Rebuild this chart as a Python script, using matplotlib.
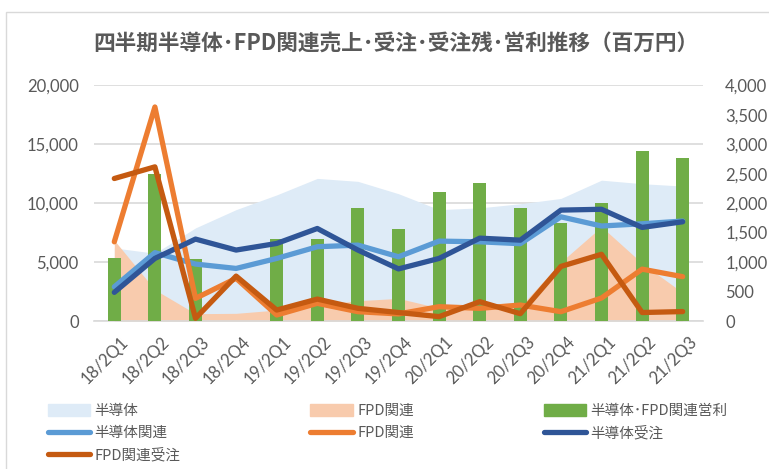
import matplotlib
matplotlib.use('Agg')
import matplotlib.pyplot as plt
import matplotlib.transforms as mtransforms
import numpy as np
from matplotlib.patches import Rectangle, Patch
from matplotlib.lines import Line2D

plt.rcParams['font.family'] = ['Lato', 'Noto Sans CJK JP', 'DejaVu Sans']

cats = ['18/2Q1', '18/2Q2', '18/2Q3', '18/2Q4', '19/2Q1', '19/2Q2', '19/2Q3', '19/2Q4',
        '20/2Q1', '20/2Q2', '20/2Q3', '20/2Q4', '21/2Q1', '21/2Q2', '21/2Q3']

# left axis (百万円)
semi_area = [6200, 5750, 7900, 9450, 10700, 12100, 11850, 10800,
             9450, 9600, 9950, 10400, 11950, 11650, 11450]
fpd_area = [6850, 2650, 620, 650, 930, 1350, 1720, 1920,
            1100, 1000, 1220, 5000, 8000, 4900, 2400]
semi_line = [2900, 5800, 4830, 4460, 5310, 6300, 6440, 5450,
             6780, 6720, 6560, 8840, 8060, 8250, 8480]
fpd_line = [6720, 18160, 1920, 3620, 510, 1500, 790, 600,
            1215, 1075, 1355, 790, 1950, 4400, 3760]
semi_orders = [2430, 5310, 6950, 6020, 6580, 7850, 6020, 4420,
               5310, 7030, 6860, 9410, 9480, 7940, 8420]
fpd_orders = [12090, 13080, 230, 3810, 930, 1860, 1075, 720,
              370, 1640, 620, 4630, 5660, 720, 800]

# right axis
profit = [1070, 2500, 1045, 0, 1390, 1390, 1915, 1555,
          2195, 2335, 1915, 1656, 2010, 2880, 2760]

gray = '#595959'
grid = '#D9D9D9'

fig = plt.figure(figsize=(7.69, 4.69), dpi=100)
fig.patches.append(Rectangle((6 / 769, -0.1), 1.2, 1 - 12 / 469 + 0.1, transform=fig.transFigure,
                             fill=False, edgecolor=grid, linewidth=1, zorder=-1))

pos = [94 / 769, 1 - 321 / 469, (703 - 94) / 769, (321 - 85.3) / 469]
ax = fig.add_axes(pos)
x = np.arange(len(cats))

ax.fill_between(x, semi_area, color='#DEEBF7', linewidth=0)
ax.fill_between(x, fpd_area, color='#F8CBAD', linewidth=0)
ax.set_xlim(-0.5, len(cats) - 0.5)
ax.set_ylim(0, 20000)
ax.set_yticks(np.arange(0, 20001, 5000))
ax.set_yticklabels([f'{v:,}' for v in range(0, 20001, 5000)])
ax.grid(axis='y', color=grid, linewidth=1.2)
ax.set_axisbelow(True)
for s in ax.spines.values():
    s.set_visible(False)
ax.spines['bottom'].set_visible(True)
ax.spines['bottom'].set_color(grid)
ax.spines['bottom'].set_linewidth(1.2)
ax.tick_params(axis='both', length=0, colors=gray, labelsize=12)
ax.tick_params(axis='y', pad=11)
ax.tick_params(axis='x', pad=9)
ax.set_xticks(x)
ax.set_xticklabels(cats, rotation=45, ha='right', rotation_mode='anchor')
shift = mtransforms.ScaledTranslation(6 / 100, 0, fig.dpi_scale_trans)
for lab in ax.get_xticklabels():
    lab.set_color(gray)
    lab.set_transform(lab.get_transform() + shift)

ax2 = ax.twinx()
ax2.bar(x, profit, width=0.32, color='#70AD47')
ax2.set_ylim(0, 4000)
ax2.set_yticks(np.arange(0, 4001, 500))
ax2.set_yticklabels([f'{v:,}' for v in range(0, 4001, 500)])
ax2.tick_params(axis='y', length=0, colors=gray, labelsize=12, pad=16)
for s in ax2.spines.values():
    s.set_visible(False)

ax3 = ax.twinx()
ax3.set_ylim(ax.get_ylim())
ax3.axis('off')
lw = 3.8
ax3.plot(x, semi_line, color='#5B9BD5', lw=lw, solid_capstyle='round', solid_joinstyle='round')
ax3.plot(x, fpd_line, color='#ED7D31', lw=lw, solid_capstyle='round', solid_joinstyle='round')
ax3.plot(x, semi_orders, color='#2F5597', lw=lw, solid_capstyle='round', solid_joinstyle='round')
ax3.plot(x, fpd_orders, color='#C55A11', lw=lw, solid_capstyle='round', solid_joinstyle='round')

fig.text(396 / 769, 1 - 44 / 469, '四半期半導体･FPD関連売上･受注･受注残･営利推移（百万円）',
         ha='center', va='center', fontsize=15.6, fontweight='bold', color=gray,
         family=['Noto Sans CJK JP', 'DejaVu Sans'])

handles = [
    Patch(color='#DEEBF7', label='半導体'),
    Patch(color='#F8CBAD', label='FPD関連'),
    Patch(color='#70AD47', label='半導体･FPD関連営利'),
    Line2D([], [], color='#5B9BD5', lw=lw, solid_capstyle='round', label='半導体関連'),
    Line2D([], [], color='#ED7D31', lw=lw, solid_capstyle='round', label='FPD関連'),
    Line2D([], [], color='#2F5597', lw=lw, solid_capstyle='round', label='半導体受注'),
    Line2D([], [], color='#C55A11', lw=lw, solid_capstyle='round', label='FPD関連受注'),
]
order = [0, 3, 6, 1, 4, 2, 5]
leg = fig.legend([handles[i] for i in order], [handles[i].get_label() for i in order],
                 loc='upper left', bbox_to_anchor=(48 / 769, 1 - 404 / 469),
                 ncol=3, frameon=False, handlelength=2.9, handleheight=0.8,
                 handletextpad=0.3, labelspacing=0.55, borderaxespad=0, borderpad=0,
                 columnspacing=8.9,
                 prop={'family': ['Noto Sans CJK JP', 'DejaVu Sans'], 'size': 10.5})
for t in leg.get_texts():
    t.set_color(gray)

fig.savefig('out.png', dpi=100)
